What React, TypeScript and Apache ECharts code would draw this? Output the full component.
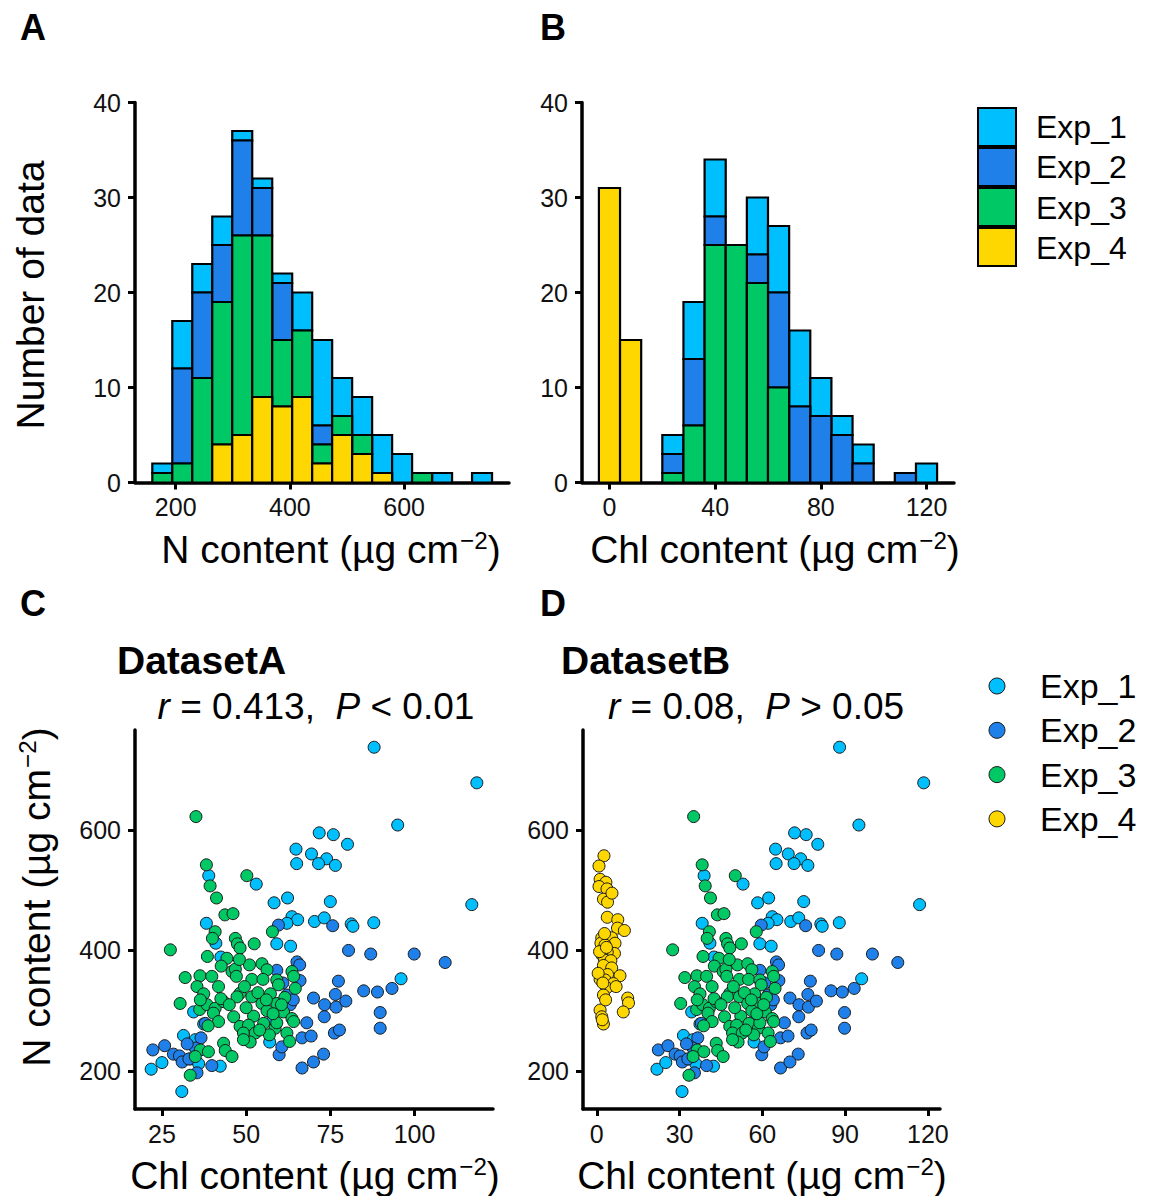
import React, { useEffect, useRef } from "react";
import * as echarts from "echarts";

// ---------- styling constants ----------
const FONT = "'Liberation Sans', Arial, Helvetica, sans-serif";
const EXP_NAMES = ["Exp_1", "Exp_2", "Exp_3", "Exp_4"];
const EXP_COLORS = ["#00BFFF", "#1E80E8", "#00C864", "#FFD700"];

// ---------- Histogram A : N content ----------
const nBinStart = 159;
const nBinWidth = 35;
const nCountsExp1 = [1, 5, 3, 3, 1, 1, 1, 4, 9, 4, 4, 4, 3, 0, 1, 0, 1];
const nCountsExp2 = [0, 10, 9, 6, 10, 5, 6, 0, 2, 0, 0, 0, 0, 0, 0, 0, 0];
const nCountsExp3 = [1, 2, 11, 15, 21, 17, 7, 7, 2, 2, 2, 0, 0, 1, 0, 0, 0];
const nCountsExp4 = [0, 0, 0, 4, 5, 9, 8, 9, 2, 5, 3, 1, 0, 0, 0, 0, 0];

// ---------- Histogram B : Chl content ----------
const chlBinStart = -4;
const chlBinWidth = 8;
const chlCountsExp1 = [0, 0, 0, 2, 6, 6, 0, 6, 7, 8, 4, 2, 2, 0, 0, 2];
const chlCountsExp2 = [0, 0, 0, 2, 7, 3, 0, 3, 10, 8, 7, 5, 2, 0, 1, 0];
const chlCountsExp3 = [0, 0, 0, 1, 6, 25, 25, 21, 10, 0, 0, 0, 0, 0, 0, 0];
const chlCountsExp4 = [31, 15, 0, 0, 0, 0, 0, 0, 0, 0, 0, 0, 0, 0, 0, 0];

// ---------- Scatter data (Chl, N) ----------
const exp1Chl = [88.0, 118.5, 95.0, 71.7, 75.9, 80.1, 64.8, 69.4, 73.9, 65.0, 71.5, 76.5, 38.9, 53.0, 58.3, 62.3, 75.0, 117.0, 38.2, 63.6, 65.3, 62.1, 70.3, 73.2, 81.2, 87.9, 81.7, 59.1, 63.2, 96.0, 34.4, 37.4, 31.4, 34.9, 33.4, 35.9, 21.8, 25.0, 42.3, 30.9, 42.5, 41.0, 57.0, 58.0, 55.0];
const exp1N = [737, 678, 608, 595, 592, 576, 568, 560, 552, 544, 544, 541, 524, 510, 479, 487, 481, 476, 445, 456, 451, 445, 448, 454, 444, 446, 440, 411, 407, 353, 298, 278, 259, 252, 220, 212, 203, 214, 208, 166, 389, 412, 248, 286, 315];

const exp2Chl = [59.6, 75.7, 80.4, 87.0, 99.9, 109.1, 59.1, 65.1, 65.9, 77.4, 84.9, 89.0, 93.3, 70.0, 73.3, 76.5, 76.7, 79.6, 73.2, 89.8, 89.8, 68.0, 66.6, 69.3, 76.2, 77.7, 73.0, 66.6, 59.8, 60.6, 22.3, 25.8, 28.4, 30.2, 39.8, 36.6, 35.4, 34.9, 62.1, 60.9, 63.1, 37.9, 31.0, 33.0, 32.5, 64.0, 66.0, 70.0];
const exp2N = [442, 441, 400, 394, 394, 380, 367, 381, 376, 349, 333, 331, 337, 321, 310, 327, 306, 316, 290, 297, 271, 280, 255, 258, 263, 268, 228, 205, 227, 240, 235, 242, 228, 225, 209, 255, 197, 238, 326, 346, 310, 279, 215, 220, 245, 318, 350, 215];

const exp3Chl = [35.1, 38.2, 39.3, 41.2, 50.2, 43.7, 46.1, 40.8, 40.0, 27.5, 46.8, 47.4, 48.2, 52.4, 57.8, 44.3, 42.6, 45.8, 31.9, 36.3, 39.8, 51.0, 54.7, 56.2, 46.8, 63.6, 64.1, 51.7, 55.0, 47.1, 59.1, 35.4, 37.4, 41.8, 30.4, 36.2, 38.4, 40.8, 43.3, 40.3, 41.8, 38.7, 43.3, 43.8, 36.4, 38.8, 34.9, 33.4, 45.8, 46.3, 59.6, 64.6, 48.2, 47.3, 51.7, 57.2, 54.7, 59.1, 61.1, 56.2, 52.2, 55.2, 48.2, 50.7, 49.2, 52.7, 58.6, 59.1, 51.2, 56.9, 62.1, 62.9, 63.6, 64.1, 49.2, 36.4, 38.5, 42.5, 48.0, 45.0, 50.0, 49.5, 53.5, 56.0, 58.0, 54.0, 61.5, 60.5];
const exp3N = [622, 542, 507, 487, 524, 459, 461, 431, 420, 401, 420, 411, 404, 411, 431, 387, 374, 365, 355, 358, 357, 376, 378, 368, 369, 365, 357, 352, 352, 357, 351, 340, 328, 340, 312, 302, 310, 304, 315, 296, 282, 275, 246, 234, 235, 232, 224, 193, 224, 290, 343, 337, 329, 323, 323, 328, 312, 312, 298, 300, 291, 279, 274, 276, 263, 263, 271, 280, 248, 260, 263, 249, 287, 282, 252, 318, 390, 320, 385, 310, 305, 340, 330, 318, 295, 268, 322, 310];

const exp4Chl = [2.6, 0.8, 1.2, 3.3, 0.8, 3.7, 2.4, 3.9, 3.8, 7.6, 7.5, 10.0, 1.8, 1.5, 5.4, 6.6, 3.0, 6.4, 3.8, 1.8, 2.8, 5.1, 2.4, 5.4, 8.4, 1.2, 3.9, 3.0, 6.0, 3.6, 2.4, 11.2, 11.5, 9.6, 1.2, 1.8, 2.4, 2.0, 3.2, 0.5, 2.2, 7.0, 1.0, 2.8, 3.5, 5.5];
const exp4N = [557, 540, 518, 513, 506, 502, 485, 480, 455, 451, 437, 433, 421, 412, 421, 412, 409, 395, 397, 393, 384, 383, 375, 371, 358, 352, 360, 351, 345, 338, 326, 321, 313, 298, 301, 290, 278, 285, 318, 362, 346, 340, 398, 428, 405, 495];

// ---------- tick labels ----------
const histAxTicks = [200, 400, 600];
const histBxTicks = [0, 40, 80, 120];
const scatterCxTicks = [25, 50, 75, 100];
const scatterDxTicks = [0, 30, 60, 90, 120];
const scatterYTicks = [200, 400, 600];

// stack order bottom -> top : Exp_4, Exp_3, Exp_2, Exp_1
function stackRects(start: number, width: number, counts: number[][]) {
  const out: number[][][] = counts.map(() => []);
  const order = [3, 2, 1, 0];
  for (let b = 0; b < counts[0].length; b++) {
    let base = 0;
    for (const s of order) {
      const c = counts[s][b];
      if (c > 0) {
        out[s].push([start + b * width, start + (b + 1) * width, base, base + c]);
        base += c;
      }
    }
  }
  return out;
}

function zip(a: number[], b: number[]) {
  return a.map((v, i) => [v, b[i]]);
}

const TICK_FS = 25;

function xAxisCfg(extra: any) {
  return {
    type: "value",
    axisLine: { show: true, onZero: false, lineStyle: { color: "#000", width: 3.5 } },
    axisTick: { show: true, length: 7, lineStyle: { color: "#000", width: 3 } },
    axisLabel: { fontSize: TICK_FS, color: "#111", fontFamily: FONT, margin: 12 },
    splitLine: { show: false },
    ...extra,
  };
}
function yAxisCfg(extra: any) {
  return {
    type: "value",
    axisLine: { show: true, onZero: false, lineStyle: { color: "#000", width: 3.5 } },
    axisTick: { show: true, length: 7, lineStyle: { color: "#000", width: 3 } },
    axisLabel: { fontSize: TICK_FS, color: "#111", fontFamily: FONT, margin: 14 },
    splitLine: { show: false },
    ...extra,
  };
}

function withCustom(cfg: any, values: number[]) {
  return {
    ...cfg,
    axisTick: { ...cfg.axisTick, customValues: values },
    axisLabel: { ...cfg.axisLabel, customValues: values },
  };
}

const TITLE_FS = 39;

function richTitle(prefix: string, size: number) {
  return {
    text: `{a|${prefix} (µg cm}{s|−2}{a|)}`,
    rich: {
      a: { fontSize: size, fontFamily: FONT, fill: "#000", lineHeight: size * 1.2, verticalAlign: "bottom" },
      s: { fontSize: size * 0.62, fontFamily: FONT, fill: "#000", lineHeight: size * 0.62, verticalAlign: "top", padding: [6, 0, 0, 1] },
    },
  };
}

export default function App() {
  const ref = useRef<HTMLDivElement>(null);
  useEffect(() => {
    if (!ref.current) return;
    const chart = echarts.init(ref.current, undefined, { renderer: "svg" });

    const histA = stackRects(nBinStart, nBinWidth, [nCountsExp1, nCountsExp2, nCountsExp3, nCountsExp4]);
    const histB = stackRects(chlBinStart, chlBinWidth, [chlCountsExp1, chlCountsExp2, chlCountsExp3, chlCountsExp4]);

    const makeHist = (rects: number[][][], idx: number) =>
      rects.map((data, s) => ({
        type: "custom",
        name: EXP_NAMES[s],
        xAxisIndex: idx,
        yAxisIndex: idx,
        data,
        encode: { x: [0, 1], y: [2, 3] },
        renderItem: (params: any, api: any) => {
          const p0 = api.coord([api.value(0), api.value(3)]);
          const p1 = api.coord([api.value(1), api.value(2)]);
          return {
            type: "rect",
            shape: { x: p0[0], y: p0[1], width: p1[0] - p0[0], height: p1[1] - p0[1] },
            style: { fill: EXP_COLORS[s], stroke: "#000", lineWidth: 2.2 },
          };
        },
      }));

    const scatterSets = [zip(exp1Chl, exp1N), zip(exp2Chl, exp2N), zip(exp3Chl, exp3N), zip(exp4Chl, exp4N)];
    const makeScatter = (idx: number, nSeries: number) =>
      scatterSets.slice(0, nSeries).map((data, s) => ({
        type: "scatter",
        name: EXP_NAMES[s],
        xAxisIndex: idx,
        yAxisIndex: idx,
        data,
        symbol: "circle",
        symbolSize: 12,
        itemStyle: { color: EXP_COLORS[s], borderColor: "#1a1a1a", borderWidth: 1, opacity: 1 },
      }));

    const text = (x: number, y: number, t: string, size: number, extra: any = {}) => ({
      type: "text",
      x,
      y,
      style: { text: t, fontSize: size, fontFamily: FONT, fill: "#000", align: "left", verticalAlign: "middle", ...extra },
    });

    const legendRects = EXP_NAMES.map((n, i) => ({
      type: "rect",
      shape: { x: 978, y: 108 + i * 40, width: 38, height: 38 },
      style: { fill: EXP_COLORS[i], stroke: "#000", lineWidth: 2 },
    }));
    const legendRectTexts = EXP_NAMES.map((n, i) => text(1036, 127 + i * 40.3, n, 32));
    const legendCircles = EXP_NAMES.map((n, i) => ({
      type: "circle",
      shape: { cx: 997, cy: 686 + i * 44.3, r: 8 },
      style: { fill: EXP_COLORS[i], stroke: "#1a1a1a", lineWidth: 1 },
    }));
    const legendCircleTexts = EXP_NAMES.map((n, i) => text(1040, 686 + i * 44.3, n, 34));

    const statRich = {
      i: { fontSize: 37, fontFamily: FONT, fontStyle: "italic", fill: "#000" },
      n: { fontSize: 37, fontFamily: FONT, fill: "#000" },
    };

    const titleStyle = (prefix: string) => ({ ...richTitle(prefix, TITLE_FS), align: "center", verticalAlign: "middle" });

    const graphic: any[] = [
      text(33, 27, "A", 36, { fontWeight: "bold", align: "center" }),
      text(553, 27, "B", 36, { fontWeight: "bold", align: "center" }),
      text(33, 603, "C", 36, { fontWeight: "bold", align: "center" }),
      text(553, 603, "D", 36, { fontWeight: "bold", align: "center" }),
      { ...text(30, 295, "Number of data", TITLE_FS, { align: "center" }), rotation: Math.PI / 2 },
      { type: "text", x: 331, y: 546, style: titleStyle("N content") },
      { type: "text", x: 775, y: 546, style: titleStyle("Chl content") },
      { type: "text", x: 33, y: 897, rotation: Math.PI / 2, style: titleStyle("N content") },
      { type: "text", x: 315, y: 1172, style: titleStyle("Chl content") },
      { type: "text", x: 762, y: 1172, style: titleStyle("Chl content") },
      text(117, 660, "DatasetA", 39, { fontWeight: "bold" }),
      text(561, 660, "DatasetB", 39, { fontWeight: "bold" }),
      { type: "text", x: 316, y: 706, style: { text: "{i|r}{n| = 0.413,  }{i|P}{n| < 0.01}", rich: statRich, align: "center", verticalAlign: "middle" } },
      { type: "text", x: 756, y: 706, style: { text: "{i|r}{n| = 0.08,  }{i|P}{n| > 0.05}", rich: statRich, align: "center", verticalAlign: "middle" } },
      ...legendRects,
      ...legendRectTexts,
      ...legendCircles,
      ...legendCircleTexts,
    ];

    chart.setOption({
      animation: false,
      backgroundColor: "#fff",
      textStyle: { fontFamily: FONT },
      grid: [
        { left: 135, top: 102.5, width: 374, height: 380 },
        { left: 582, top: 102.5, width: 372, height: 380 },
        { left: 135, top: 730, width: 358, height: 379 },
        { left: 583, top: 730, width: 357, height: 379 },
      ],
      xAxis: [
        withCustom(xAxisCfg({ gridIndex: 0, min: 128.7, max: 783.7 }), histAxTicks),
        withCustom(xAxisCfg({ gridIndex: 1, min: -10.4, max: 130.4 }), histBxTicks),
        withCustom(xAxisCfg({ gridIndex: 2, min: 17.0, max: 123.3 }), scatterCxTicks),
        withCustom(xAxisCfg({ gridIndex: 3, min: -5.0, max: 124.4 }), scatterDxTicks),
      ],
      yAxis: [
        yAxisCfg({ gridIndex: 0, min: 0, max: 40, interval: 10 }),
        yAxisCfg({ gridIndex: 1, min: 0, max: 40, interval: 10 }),
        withCustom(yAxisCfg({ gridIndex: 2, min: 137, max: 765.6 }), scatterYTicks),
        withCustom(yAxisCfg({ gridIndex: 3, min: 137, max: 765.6 }), scatterYTicks),
      ],
      series: [...makeHist(histA, 0), ...makeHist(histB, 1), ...makeScatter(2, 3), ...makeScatter(3, 4)],
      graphic,
    });

    return () => chart.dispose();
  }, []);

  return (
    <div
      ref={ref}
      style={{ position: "absolute", left: 0, top: 0, width: 1155, height: 1196, background: "#fff" }}
    />
  );
}
